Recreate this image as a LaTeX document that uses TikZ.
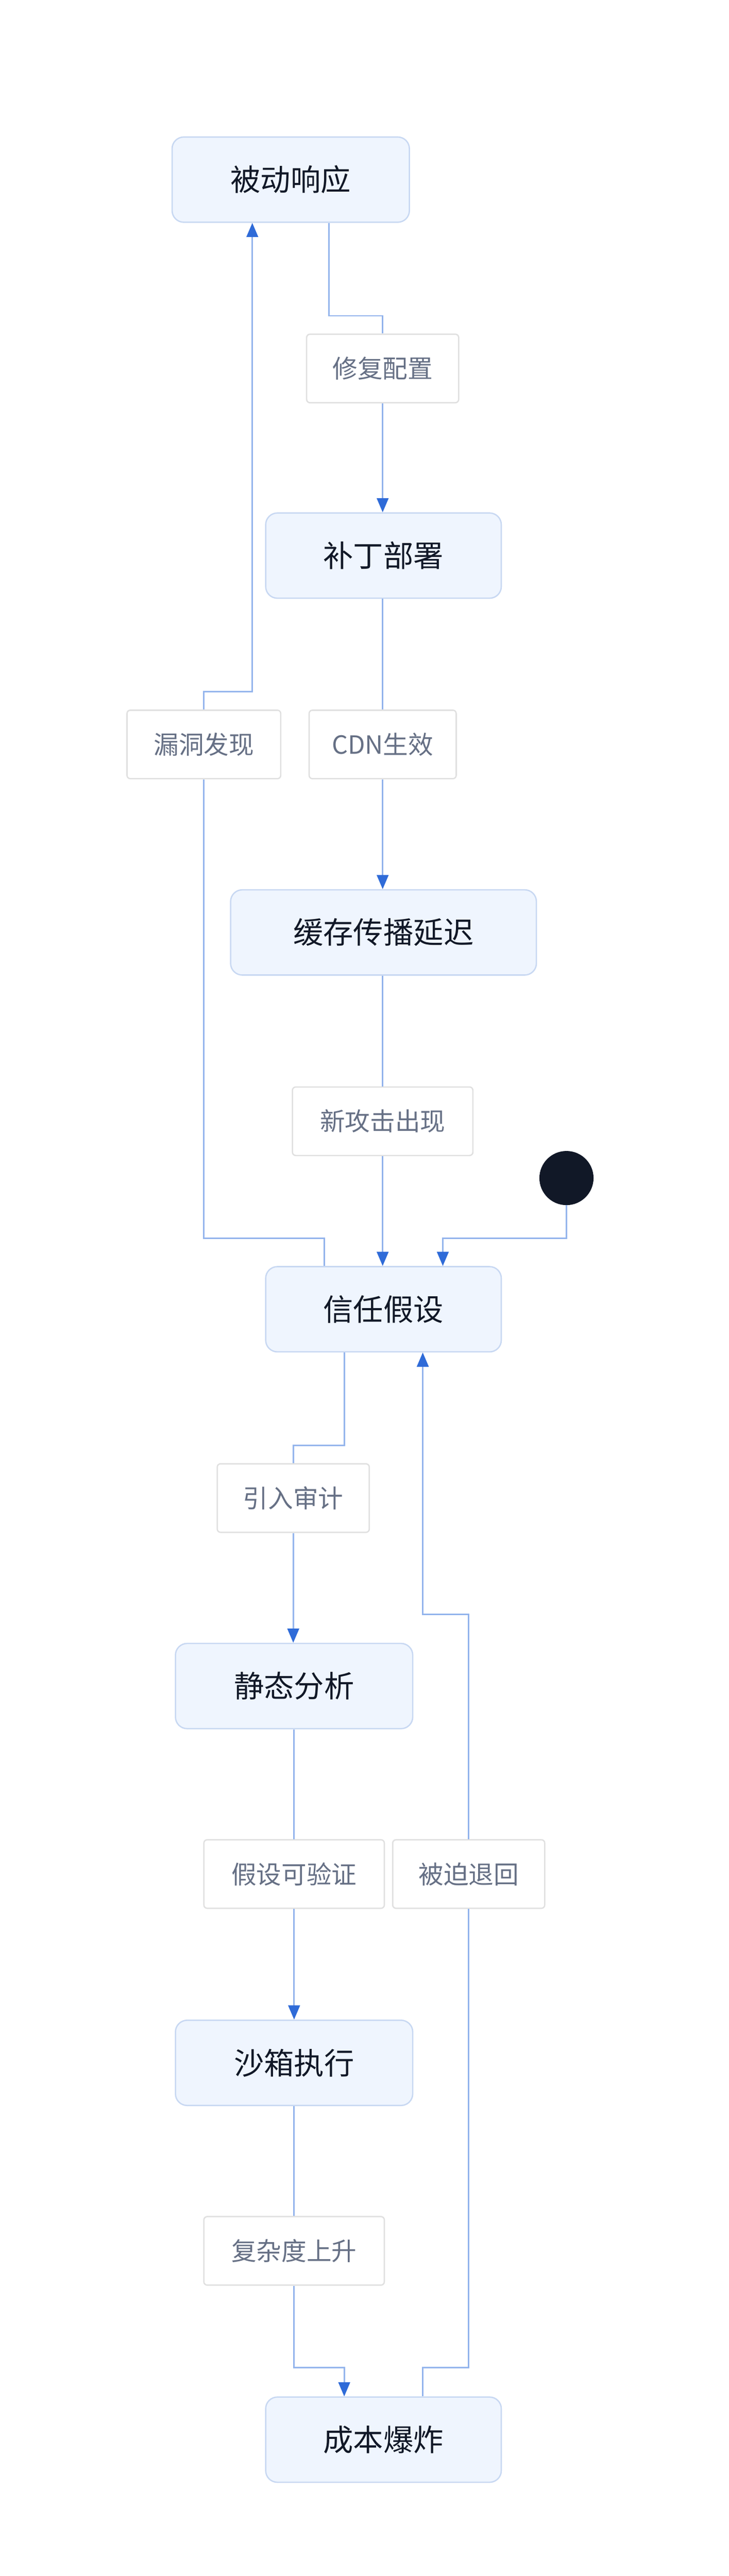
\documentclass[tikz,border=0pt]{standalone}
\usepackage{fontspec}
\setmainfont{Noto Sans CJK SC}
\usetikzlibrary{arrows.meta}
\definecolor{edge}{HTML}{93B4EC}
\definecolor{tip}{HTML}{2F6BD8}
\definecolor{nfill}{HTML}{EFF5FE}
\definecolor{nborder}{HTML}{C8D8F2}
\definecolor{lborder}{HTML}{E0E0E0}
\definecolor{ltext}{HTML}{667085}
\definecolor{ntext}{HTML}{111827}
\tikzset{
  st/.style={draw=nborder,fill=nfill,line width=0.8pt,rounded corners=7pt,minimum height=51pt,text=ntext,font=\fontsize{18pt}{21pt}\selectfont,inner sep=0pt},
  lb/.style={draw=lborder,fill=white,line width=0.8pt,rounded corners=2pt,minimum height=41pt,text=ltext,font=\fontsize{15pt}{18pt}\selectfont,inner sep=0pt},
  ln/.style={draw=edge,line width=0.9pt},
  ar/.style={ln,-{Triangle[length=8.5pt,width=7pt,fill=tip,color=tip]}}
}
\begin{document}
\begin{tikzpicture}[x=1pt,y=-1pt]
\useasboundingbox (0,0) rectangle (436,1541.6);
\node[st,minimum width=142pt] (bd) at (174,107.5) {被动响应};
\node[lb,minimum width=91pt] (l1) at (229,220.5) {修复配置};
\node[st,minimum width=141pt] (bq) at (229.5,332.5) {补丁部署};
\node[lb,minimum width=92pt] (l2) at (122,445.5) {漏洞发现};
\node[lb,minimum width=88pt] (l3) at (229,445.5) {CDN生效};
\node[st,minimum width=183pt] (hc) at (229.5,558) {缓存传播延迟};
\node[lb,minimum width=108pt] (l4) at (229,671) {新攻击出现};
\node[circle,fill=ntext,draw=ntext,minimum size=32pt,inner sep=0pt] (start) at (339,705) {};
\node[st,minimum width=141pt] (xr) at (229.5,783.5) {信任假设};
\node[lb,minimum width=91pt] (l5) at (175.5,896.5) {引入审计};
\node[st,minimum width=142pt] (jt) at (176,1009) {静态分析};
\node[lb,minimum width=108pt] (l6) at (176,1121.5) {假设可验证};
\node[lb,minimum width=91pt] (l7) at (280.5,1121.5) {被迫退回};
\node[st,minimum width=142pt] (sx) at (176,1234.5) {沙箱执行};
\node[lb,minimum width=108pt] (l8) at (176,1347) {复杂度上升};
\node[st,minimum width=141pt] (cb) at (229.5,1460) {成本爆炸};
% 1
\draw[ln] (bd.south -| 197,0) |- (229,189) -- (l1.north);
\draw[ar] (l1.south) -- (bq.north -| l1.south);
% 2
\draw[ln] (bq.south -| l3.north) -- (l3.north);
\draw[ar] (l3.south) -- (hc.north -| l3.south);
% 3
\draw[ln] (hc.south -| l4.north) -- (l4.north);
\draw[ar] (l4.south) -- (xr.north -| l4.south);
% 4
\draw[ln] (xr.north -| 194,0) |- (122,741) -- (l2.south);
\draw[ar] (l2.north) |- (151,414) -- (bd.south -| 151,0);
% 5
\draw[ar] (start.south) |- (265,741) -- (xr.north -| 265,0);
% 6
\draw[ln] (xr.south -| 206,0) |- (175.5,865) -- (l5.north);
\draw[ar] (l5.south) -- (jt.north -| l5.south);
% 7
\draw[ln] (jt.south) -- (l6.north);
\draw[ar] (l6.south) -- (sx.north);
% 8
\draw[ln] (sx.south) -- (l8.north);
\draw[ar] (l8.south) |- (206,1417) -- (cb.north -| 206,0);
% 9
\draw[ln] (cb.north -| 253,0) |- (280.5,1417) -- (l7.south);
\draw[ar] (l7.north) |- (253,966) -- (xr.south -| 253,0);
\end{tikzpicture}
\end{document}
